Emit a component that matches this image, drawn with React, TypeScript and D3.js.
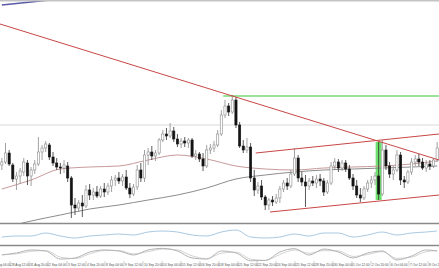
import React, { useEffect } from "react";
import * as d3 from "d3";

const OPEN = [
  1.1835,1.1838,1.1847,1.1835,1.1821,1.1824,1.1828,1.1837,1.1824,1.1830,
  1.1836,1.1848,1.1852,1.1855,1.1843,1.1837,1.1833,1.1832,1.1834,1.1822,
  1.1795,1.1792,1.1797,1.1794,1.1810,1.1805,1.1808,1.1804,1.1811,1.1808,
  1.1814,1.1820,1.1822,1.1819,1.1823,1.1812,1.1806,1.1813,1.1830,1.1822,
  1.1845,1.1848,1.1844,1.1847,1.1860,1.1866,1.1864,1.1869,1.1861,1.1856,
  1.1859,1.1857,1.1860,1.1844,1.1846,1.1841,1.1834,1.1850,1.1852,1.1855,
  1.1866,1.1885,1.1894,1.1888,1.1900,1.1875,1.1854,1.1850,1.1853,1.1822,
  1.1810,1.1814,1.1803,1.1795,1.1800,1.1798,1.1802,1.1811,1.1817,1.1814,
  1.1826,1.1842,1.1822,1.1818,1.1814,1.1819,1.1817,1.1821,1.1819,1.1808,
  1.1817,1.1834,1.1838,1.1832,1.1837,1.1831,1.1822,1.1814,1.1805,1.1802,
  1.1811,1.1817,1.1820,1.1824,1.1806,1.1850,1.1834,1.1826,1.1830,1.1845,
  1.1820,1.1818,1.1828,1.1838,1.1841,1.1838,1.1832,1.1836,1.1834,1.1840,
];
const HIGH = [
  1.1842,1.1857,1.1850,1.1837,1.1828,1.1832,1.1842,1.1840,1.1833,1.1840,
  1.1863,1.1855,1.1859,1.1857,1.1848,1.1842,1.1837,1.1840,1.1838,1.1824,
  1.1802,1.1800,1.1805,1.1815,1.1816,1.1812,1.1814,1.1814,1.1817,1.1817,
  1.1824,1.1825,1.1828,1.1826,1.1830,1.1817,1.1816,1.1835,1.1837,1.1850,
  1.1852,1.1854,1.1850,1.1862,1.1870,1.1872,1.1877,1.1873,1.1866,1.1862,
  1.1863,1.1862,1.1862,1.1850,1.1848,1.1847,1.1855,1.1856,1.1859,1.1870,
  1.1890,1.1900,1.1897,1.1905,1.1903,1.1878,1.1860,1.1862,1.1857,1.1830,
  1.1818,1.1820,1.1805,1.1802,1.1804,1.1806,1.1814,1.1820,1.1822,1.1830,
  1.1852,1.1845,1.1828,1.1825,1.1822,1.1824,1.1825,1.1826,1.1822,1.1820,
  1.1838,1.1842,1.1841,1.1840,1.1840,1.1835,1.1826,1.1820,1.1812,1.1814,
  1.1820,1.1824,1.1828,1.1858,1.1860,1.1855,1.1838,1.1834,1.1850,1.1848,
  1.1824,1.1830,1.1842,1.1845,1.1846,1.1842,1.1840,1.1840,1.1842,1.1858,
];
const LOW = [
  1.1830,1.1836,1.1834,1.1818,1.1810,1.1816,1.1824,1.1815,1.1814,1.1826,
  1.1834,1.1840,1.1848,1.1840,1.1834,1.1830,1.1826,1.1827,1.1818,1.1782,
  1.1785,1.1788,1.1783,1.1792,1.1800,1.1800,1.1802,1.1802,1.1803,1.1805,
  1.1808,1.1814,1.1816,1.1814,1.1810,1.1802,1.1804,1.1810,1.1818,1.1818,
  1.1835,1.1840,1.1839,1.1845,1.1858,1.1860,1.1862,1.1858,1.1853,1.1852,
  1.1853,1.1852,1.1842,1.1840,1.1838,1.1829,1.1832,1.1846,1.1848,1.1853,
  1.1864,1.1882,1.1884,1.1886,1.1872,1.1852,1.1847,1.1847,1.1818,1.1804,
  1.1806,1.1800,1.1790,1.1790,1.1794,1.1796,1.1797,1.1808,1.1810,1.1812,
  1.1824,1.1818,1.1814,1.1793,1.1810,1.1814,1.1812,1.1814,1.1804,1.1806,
  1.1815,1.1830,1.1828,1.1829,1.1828,1.1820,1.1810,1.1802,1.1798,1.1800,
  1.1808,1.1812,1.1815,1.1800,1.1804,1.1830,1.1822,1.1820,1.1828,1.1815,
  1.1812,1.1816,1.1825,1.1834,1.1834,1.1830,1.1828,1.1830,1.1832,1.1838,
];
const CLOSE = [
  1.1838,1.1847,1.1836,1.1821,1.1824,1.1829,1.1838,1.1824,1.1830,1.1836,
  1.1848,1.1852,1.1856,1.1843,1.1837,1.1833,1.1832,1.1835,1.1822,1.1795,
  1.1792,1.1797,1.1794,1.1810,1.1805,1.1808,1.1804,1.1811,1.1808,1.1814,
  1.1820,1.1822,1.1819,1.1823,1.1812,1.1806,1.1813,1.1830,1.1822,1.1845,
  1.1848,1.1844,1.1847,1.1860,1.1866,1.1864,1.1869,1.1861,1.1856,1.1859,
  1.1857,1.1860,1.1844,1.1846,1.1841,1.1834,1.1850,1.1852,1.1855,1.1866,
  1.1885,1.1894,1.1888,1.1900,1.1875,1.1854,1.1850,1.1853,1.1822,1.1810,
  1.1814,1.1803,1.1795,1.1800,1.1798,1.1802,1.1811,1.1817,1.1814,1.1826,
  1.1842,1.1822,1.1818,1.1814,1.1819,1.1817,1.1821,1.1819,1.1808,1.1817,
  1.1834,1.1838,1.1832,1.1837,1.1831,1.1822,1.1814,1.1805,1.1802,1.1811,
  1.1817,1.1820,1.1824,1.1806,1.1850,1.1834,1.1826,1.1830,1.1845,1.1820,
  1.1818,1.1828,1.1838,1.1841,1.1838,1.1832,1.1836,1.1834,1.1840,1.1852,
];

const MA_IDX = [0, 8, 16, 24, 32, 40, 48, 56, 64, 72, 80, 88, 96, 104, 112, 119];
const MA_FAST = [1.1811,1.1820,1.1831,1.1833,1.1834,1.1840,1.1845,1.1841,1.1834,1.1831,1.1830,1.1832,1.1833,1.1834,1.1836,1.1839];
const MA_SLOW = [1.1772,1.1779,1.1785,1.1791,1.1795,1.1800,1.1805,1.1812,1.1821,1.1825,1.1828,1.1830,1.1831,1.1832,1.1833,1.1834];
const MA_LONG_IDX = [0, 8, 16, 24];
const MA_LONG = [1.1995, 1.1998, 1.2001, 1.2004];

const OSC_IDX = [0,4,8,12,16,20,24,28,32,36,40,44,48,52,56,60,64,68,72,76,80,84,88,92,96,100,104,108,112,116,119];
const OSC = [8,9,9,12,9,7,9,10,11,10,13,14,13,10,9,13,15,8,7,8,11,9,12,12,8,10,13,10,12,13,14];
const STOCH_K = [46,62,85,77,15,23,69,85,77,46,85,97,77,23,15,77,62,2,4,69,95,46,92,69,23,62,77,8,38,85,77];
const STOCH_D = [50,55,75,80,30,18,55,80,80,55,72,92,85,40,18,60,68,15,5,50,85,60,80,78,35,50,72,20,30,72,80];

const TIME_LABELS = [
  "27 Aug 04:00","28 Aug 12:00","31 Aug 20:00","2 Sep 04:00","3 Sep 12:00","4 Sep 20:00",
  "8 Sep 04:00","9 Sep 12:00","10 Sep 20:00","14 Sep 04:00","15 Sep 12:00","16 Sep 20:00",
  "18 Sep 04:00","21 Sep 12:00","22 Sep 20:00","24 Sep 04:00","25 Sep 12:00","28 Sep 20:00",
  "30 Sep 04:00","1 Oct 12:00","2 Oct 20:00","6 Oct 04:00","7 Oct 12:00","8 Oct 20:00",
];

const TREND_DOWN: [number, number][] = [[-0.5, 1.1976], [119.5, 1.1840]];
const CHANNEL_UP: [number, number][] = [[69.4, 1.1847], [119.5, 1.1866]];
const CHANNEL_LOW: [number, number][] = [[73.3, 1.1788], [119.5, 1.1805]];
const RESIST_FROM = 60.5;
const RESIST_PRICE = 1.1904;
const LEVEL_PRICE = 1.1875;
const HIGHLIGHT = 103;

const W = 439;
const H = 268;

export default function App() {
  useEffect(() => {
    document.body.style.margin = "0";
  }, []);
  const N = CLOSE.length;
  const x = d3.scaleLinear().domain([-0.5, N - 0.5]).range([0, W]);
  const y = d3.scaleLinear().domain([1.1776, 1.2]).range([224, 0]);
  const yOsc = d3.scaleLinear().domain([0, 20]).range([245, 225]);
  const ySt = d3.scaleLinear().domain([0, 100]).range([261, 248]);
  const xLab = d3.scaleLinear().domain([0, 1]).range([-9.5, 9.5]);

  const lineIdx = (idx: number[], vals: number[], ys: any) =>
    d3.line<number>().x((_, i) => x(idx[i])).y((v) => ys(v)).curve(d3.curveMonotoneX)(vals) || "";
  const seg = (pts: [number, number][]) =>
    d3.line<[number, number]>().x((p) => x(p[0])).y((p) => y(p[1]))(pts) || "";

  const bw = 2.2;
  return (
    <svg width={W} height={H} style={{ position: "absolute", left: 0, top: 0, background: "#fff" }} fontFamily="'Liberation Sans', Arial, sans-serif">
      <defs>
        <clipPath id="main"><rect x={0} y={1.5} width={W} height={221.5} /></clipPath>
        <clipPath id="osc"><rect x={0} y={224.5} width={W} height={20.5} /></clipPath>
      </defs>
      <rect x={0} y={0} width={W} height={H} fill="#fff" />
      <g clipPath="url(#main)">
        <line x1={0} x2={W} y1={y(LEVEL_PRICE)} y2={y(LEVEL_PRICE)} stroke="#e6e6e6" strokeWidth={1.5} />
        <line x1={x(RESIST_FROM)} x2={W} y1={y(RESIST_PRICE)} y2={y(RESIST_PRICE)} stroke="#9be39b" strokeWidth={2} />
        <rect x={x(HIGHLIGHT) - 3} width={6} y={y(HIGH[HIGHLIGHT])} height={y(LOW[HIGHLIGHT]) - y(HIGH[HIGHLIGHT])} fill="#6ee06e" />
        <path d={lineIdx(MA_IDX, MA_SLOW, y)} fill="none" stroke="#8c8c8c" strokeWidth={1} />
        <path d={lineIdx(MA_IDX, MA_FAST, y)} fill="none" stroke="#c79a9a" strokeWidth={1} />
        {CLOSE.map((c, i) => {
          const o = OPEN[i];
          const bull = c >= o;
          const top = y(Math.max(o, c));
          const bot = y(Math.min(o, c));
          const cx = x(i);
          return (
            <g key={i}>
              <line x1={cx} x2={cx} y1={y(HIGH[i])} y2={y(LOW[i])} stroke={bull ? "#8a8a8a" : "#303030"} strokeWidth={0.8} />
              <rect x={cx - bw / 2} width={bw} y={top} height={Math.max(0.8, bot - top)} fill={bull ? "#ffffff" : "#141414"} stroke={bull ? "#8a8a8a" : "#141414"} strokeWidth={0.6} />
            </g>
          );
        })}
        <path d={seg(TREND_DOWN)} stroke="#c84646" strokeWidth={1} fill="none" />
        <path d={seg(CHANNEL_UP)} stroke="#c84646" strokeWidth={1} fill="none" />
        <path d={seg(CHANNEL_LOW)} stroke="#c84646" strokeWidth={1} fill="none" />
      </g>
      <g>
        <path d={lineIdx(MA_LONG_IDX, MA_LONG, y)} fill="none" stroke="#5a5aa8" strokeWidth={1.3} />
      </g>
      <line x1={0} x2={W} y1={0.8} y2={0.8} stroke="#c4c4c4" strokeWidth={1.6} />
      <line x1={0} x2={W} y1={223.5} y2={223.5} stroke="#8a8a8a" strokeWidth={1.3} />
      <line x1={0} x2={W} y1={245.5} y2={245.5} stroke="#8a8a8a" strokeWidth={1.3} />
      <g clipPath="url(#osc)">
        <path d={lineIdx(OSC_IDX, OSC, yOsc)} fill="none" stroke="#a9c9e2" strokeWidth={1} />
      </g>
      <path d={lineIdx(OSC_IDX, STOCH_D, ySt)} fill="none" stroke="#d2d2d2" strokeWidth={1} />
      <path d={lineIdx(OSC_IDX, STOCH_K, ySt)} fill="none" stroke="#b4b4b4" strokeWidth={1} />
      {TIME_LABELS.map((t, k) => (
        <g key={t}>
          <line x1={xLab(k) + 0.5} x2={xLab(k) + 0.5} y1={261} y2={266.5} stroke="#b0b0b0" strokeWidth={0.6} />
          <text x={xLab(k) + 1.5} y={265.5} fontSize={3.2} fill="#505050">{t}</text>
        </g>
      ))}
    </svg>
  );
}
